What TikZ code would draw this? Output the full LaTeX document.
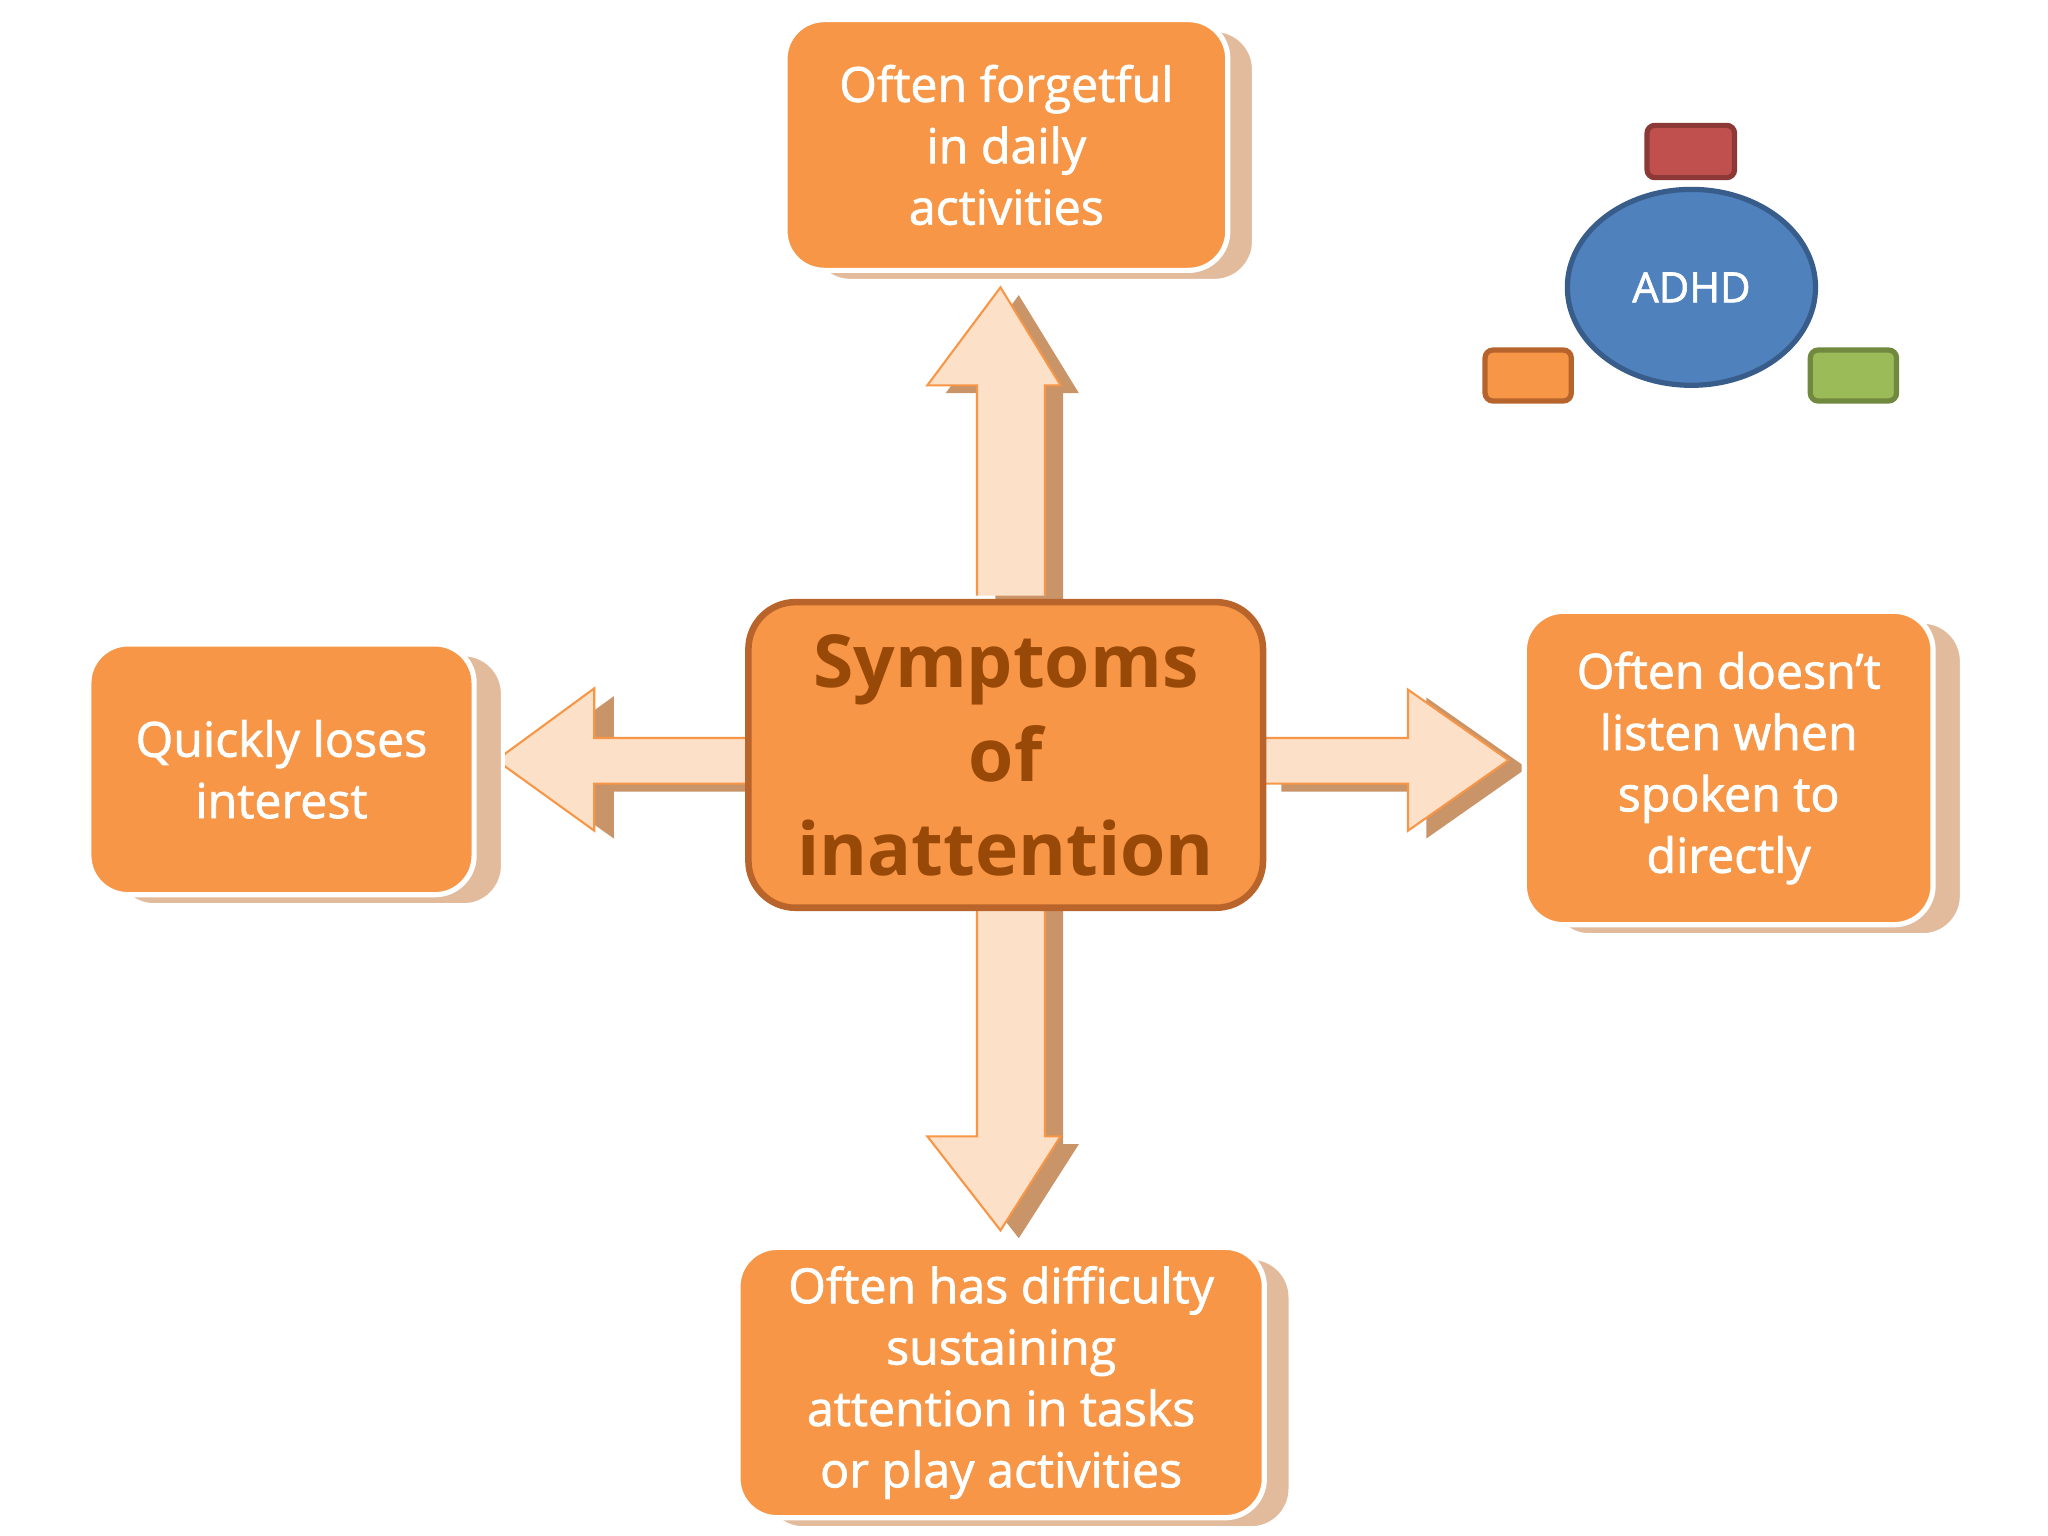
\documentclass[tikz,border=0pt]{standalone}
\usetikzlibrary{shapes.geometric}
\usepackage{fontspec}
\setmainfont{Open Sans}
\newfontfamily\semib[FakeBold=1.5]{Open Sans}
\definecolor{org}{HTML}{F79646}
\definecolor{tan}{HTML}{E2BA9C}
\definecolor{peach}{HTML}{FDE0C8}
\definecolor{ashadow}{HTML}{C99468}
\definecolor{brn}{HTML}{984807}
\definecolor{cb}{HTML}{B8642A}
\tikzset{
 x=0.5pt,y=-0.5pt,
 sbox/.style={fill=tan,draw=white,line width=1.5pt,rounded corners=15pt},
 mbox/.style={fill=org,draw=white,line width=2pt,rounded corners=15pt,text=white,align=center,font=\semib\fontsize{18.5}{23.5}\selectfont,inner sep=0pt},
 arr/.style={fill=peach,draw=org,line width=0.8pt,line join=miter},
 arrs/.style={fill=ashadow,draw=none},
 small/.style={rounded corners=3pt,line width=2pt}
}
\begin{document}
\begin{tikzpicture}
\useasboundingbox[fill=white] (0,0) rectangle (1568,1176);
% arrow shadows
\begin{scope}[shift={(14,6)}]
\fill[arrs] (748,456)--(748,295)--(710,295)--(766,220)--(812,295)--(800,295)--(800,456)--cycle;
\fill[arrs] (748,690)--(748,870)--(710,870)--(766,942)--(812,870)--(800,870)--(800,690)--cycle;
\fill[arrs] (967,565)--(1078,565)--(1078,528)--(1155,582)--(1078,636)--(1078,600)--(967,600)--cycle;
\end{scope}
\begin{scope}[shift={(0,6)}]
\fill[arrs] (573,565)--(470,565)--(470,527)--(394,582)--(470,636)--(470,600)--(573,600)--cycle;
\end{scope}
% arrows
\draw[arr] (748,456)--(748,295)--(710,295)--(766,220)--(812,295)--(800,295)--(800,456);
\draw[arr] (748,690)--(748,870)--(710,870)--(766,942)--(812,870)--(800,870)--(800,690);
\draw[arr] (967,565)--(1078,565)--(1078,528)--(1155,582)--(1078,636)--(1078,600)--(967,600);
\draw[arr] (573,565)--(455,565)--(455,527)--(380,582)--(455,636)--(455,600)--(573,600);
% shadows
\draw[sbox] (621,23) rectangle (960,215);
\draw[sbox] (88,501) rectangle (385,693);
\draw[sbox] (1187,476) rectangle (1502,716);
\draw[sbox] (585,963) rectangle (988,1170);
% boxes
\node[mbox,minimum width=169.5pt,minimum height=96pt] (top) at (770.5,111) {Often forgetful\\in daily\\activities};
\node[mbox,minimum width=147.5pt,minimum height=96pt] (left) at (215.5,589) {Quickly loses\\interest};
\node[mbox,minimum width=156.5pt,minimum height=120pt] (right) at (1323.5,588) {Often doesn’t\\listen when\\spoken to\\directly};
\node[mbox,minimum width=201.5pt,minimum height=103.5pt] (bot) at (766.5,1058.5) {Often has difficulty\\sustaining\\attention in tasks\\or play activities};
\node[fill=org,draw=cb,line width=2.5pt,rounded corners=18pt,minimum width=197pt,minimum height=117pt,text=brn,align=center,font=\fontsize{28}{36}\bfseries\selectfont,inner sep=0pt] (c) at (770,578) {Symptoms\\of\\inattention};
% ADHD
\draw[small,fill={rgb,255:red,192;green,80;blue,77},draw={rgb,255:red,140;green,56;blue,54}] (1261,96) rectangle (1328,136);
\draw[small,fill=org,draw={rgb,255:red,182;green,100;blue,44}] (1137,268) rectangle (1203,307);
\draw[small,fill={rgb,255:red,155;green,187;blue,89},draw={rgb,255:red,113;green,137;blue,63}] (1386,268) rectangle (1452,307);
\node[ellipse,fill={rgb,255:red,79;green,129;blue,189},draw={rgb,255:red,56;green,93;blue,138},line width=2pt,minimum width=95pt,minimum height=75pt,text=white,font=\semib\fontsize{16}{19}\selectfont,inner sep=0pt] (adhd) at (1295,220) {ADHD};
\end{tikzpicture}
\end{document}
